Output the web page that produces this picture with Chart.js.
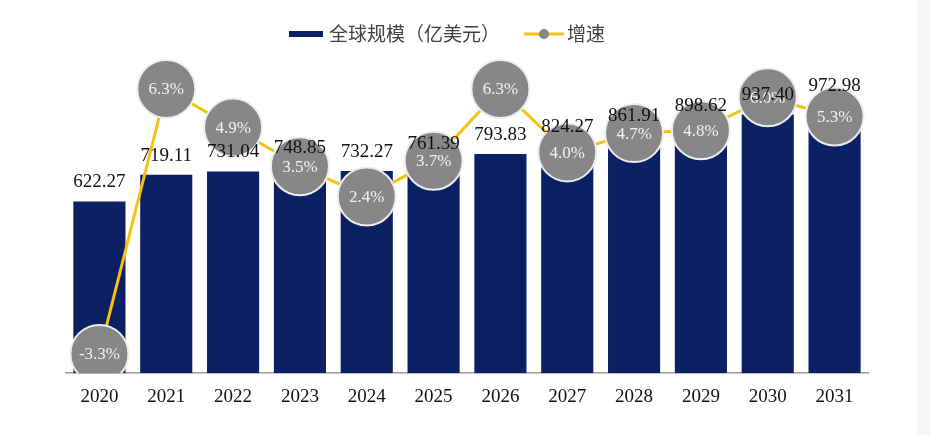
<!DOCTYPE html>
<html lang="zh">
<head>
    <meta charset="UTF-8">
    <title>全球规模与增速</title>
    <script src="https://cdn.jsdelivr.net/npm/chart.js"></script>
    <style>
        html, body { margin: 0; padding: 0; background: #ffffff; }
        #wrap { position: relative; width: 930px; height: 435px; }
        #strip { position: absolute; right: 0; top: 0; width: 13px; height: 435px; background: #f6f6f6; }
    </style>
</head>
<body>
    <div id="wrap">
        <canvas id="marketChart" width="930" height="435"></canvas>
        <div id="strip"></div>
    </div>

    <script>
        // data
        const years = ['2020', '2021', '2022', '2023', '2024', '2025', '2026', '2027', '2028', '2029', '2030', '2031'];
        const marketSize = [622.27, 719.11, 731.04, 748.85, 732.27, 761.39, 793.83, 824.27, 861.91, 898.62, 937.40, 972.98];
        const growthRate = [-3.3, 6.3, 4.9, 3.5, 2.4, 3.7, 6.3, 4.0, 4.7, 4.8, 6.0, 5.3];

        const navy = '#0b2163';
        const gold = '#f5c211';
        const dotGray = '#878787';
        const serif = '"Liberation Serif", "Times New Roman", serif';
        const cjk = '"Noto Sans CJK SC", "Noto Sans", sans-serif';

        // value labels on bars and inside circles
        const labelPlugin = {
            id: 'labels',
            afterDatasetsDraw(chart) {
                const ctx = chart.ctx;
                ctx.save();
                ctx.textAlign = 'center';
                ctx.textBaseline = 'middle';

                const lineMeta = chart.getDatasetMeta(1);
                ctx.font = '17px ' + serif;
                ctx.fillStyle = '#f2f2f2';
                lineMeta.data.forEach((pt, i) => {
                    ctx.fillText(growthRate[i].toFixed(1) + '%', pt.x, pt.y + 1);
                });

                const barMeta = chart.getDatasetMeta(0);
                ctx.font = '19px ' + serif;
                ctx.fillStyle = '#111111';
                barMeta.data.forEach((bar, i) => {
                    ctx.fillText(marketSize[i].toFixed(2), bar.x, bar.y - 19);
                });
                ctx.restore();
            }
        };

        // legend across the top
        const legendPlugin = {
            id: 'topLegend',
            afterDraw(chart) {
                const ctx = chart.ctx;
                const y = 34;
                ctx.save();
                ctx.fillStyle = navy;
                ctx.fillRect(289, y - 3, 34, 6);

                ctx.font = '19px ' + cjk;
                ctx.fillStyle = '#404040';
                ctx.textBaseline = 'middle';
                ctx.textAlign = 'left';
                ctx.fillText(chart.data.datasets[0].label, 329, y);

                ctx.strokeStyle = gold;
                ctx.lineWidth = 3;
                ctx.beginPath();
                ctx.moveTo(524, y);
                ctx.lineTo(564, y);
                ctx.stroke();
                ctx.fillStyle = dotGray;
                ctx.beginPath();
                ctx.arc(544, y, 5, 0, Math.PI * 2);
                ctx.fill();

                ctx.fillStyle = '#404040';
                ctx.fillText(chart.data.datasets[1].label, 567, y);
                ctx.restore();
            }
        };

        new Chart(document.getElementById('marketChart'), {
            data: {
                labels: years,
                datasets: [
                    {
                        type: 'bar',
                        label: '全球规模（亿美元）',
                        data: marketSize,
                        backgroundColor: navy,
                        categoryPercentage: 0.78,
                        barPercentage: 1,
                        yAxisID: 'y',
                        order: 2
                    },
                    {
                        type: 'line',
                        label: '增速',
                        data: growthRate,
                        borderColor: gold,
                        borderWidth: 3,
                        tension: 0,
                        pointRadius: 29,
                        pointBackgroundColor: dotGray,
                        pointBorderColor: '#eeeeee',
                        pointBorderWidth: 2,
                        yAxisID: 'y1',
                        order: 1
                    }
                ]
            },
            options: {
                responsive: false,
                animation: false,
                layout: { padding: { top: 42, left: 66, right: 62, bottom: 15 } },
                plugins: {
                    legend: { display: false },
                    tooltip: { enabled: false }
                },
                scales: {
                    x: {
                        grid: { display: false, drawTicks: false },
                        border: { display: true, color: '#9a9a9a', width: 1.5 },
                        ticks: {
                            color: '#111111',
                            padding: 12,
                            font: { family: serif, size: 19 }
                        }
                    },
                    y: { display: false, min: 0, max: 1200 },
                    y1: { display: false, min: -4, max: 8 }
                }
            },
            plugins: [labelPlugin, legendPlugin]
        });
    </script>
</body>
</html>
